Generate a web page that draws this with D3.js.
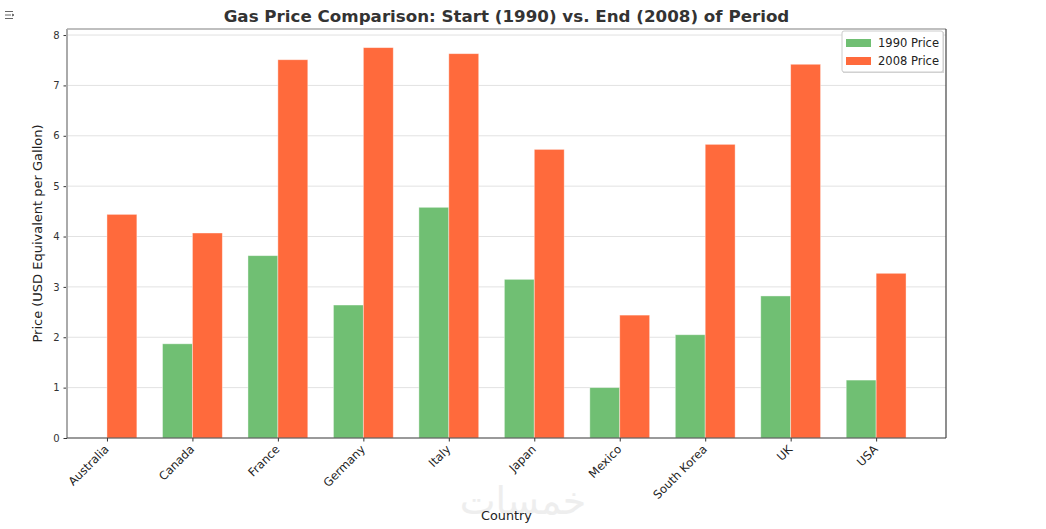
<!DOCTYPE html>
<html>
<head>
<meta charset="utf-8">
<script src="https://cdn.jsdelivr.net/npm/d3@7"></script>
<style>
  body { margin: 0; background: #fff; }
  svg { font-family: "DejaVu Sans", sans-serif; }
</style>
</head>
<body>
<svg id="chart" width="1046" height="529"></svg>
<script>
// Data
var countries = ['Australia', 'Canada', 'France', 'Germany', 'Italy', 'Japan', 'Mexico', 'South Korea', 'UK', 'USA'];
var price1990 = [null, 1.87, 3.62, 2.64, 4.58, 3.15, 1.00, 2.05, 2.82, 1.15];
var price2008 = [4.44, 4.07, 7.51, 7.75, 7.63, 5.73, 2.44, 5.83, 7.42, 3.27];
var yTicks = [0, 1, 2, 3, 4, 5, 6, 7, 8];

// plot box
var padLeft = 67, padRight = 946, padTop = 29, padBottom = 438;
var barW = 0.35;

var svg = d3.select('#chart');

// scales (matplotlib style positions: index with margins)
var xScale = d3.scaleLinear()
               .domain([-0.4675, countries.length - 1 + 0.8175])
               .range([padLeft, padRight]);

var yScale = d3.scaleLinear()
               .domain([0, 8.12])
               .range([padBottom, padTop]);

// grid
svg.append('g')
   .selectAll('line')
   .data(yTicks)
   .enter()
   .append('line')
   .attr('x1', padLeft)
   .attr('x2', padRight)
   .attr('y1', (d) => yScale(d))
   .attr('y2', (d) => yScale(d))
   .attr('stroke', '#e2e2e2')
   .attr('stroke-width', 1);

// bars
svg.append('g')
   .selectAll('rect')
   .data(price1990.map((v, i) => [v, i]).filter((d) => d[0] != null))
   .enter()
   .append('rect')
   .attr('x', (d) => xScale(d[1] - barW))
   .attr('y', (d) => yScale(d[0]))
   .attr('width', (d) => xScale(barW) - xScale(0))
   .attr('height', (d) => yScale(0) - yScale(d[0]))
   .attr('fill', '#70bf73')
   .attr('stroke', '#fff')
   .attr('stroke-opacity', 0.5)
   .attr('stroke-width', 0.8);

svg.append('g')
   .selectAll('rect')
   .data(price2008.map((v, i) => [v, i]))
   .enter()
   .append('rect')
   .attr('x', (d) => xScale(d[1]))
   .attr('y', (d) => yScale(d[0]))
   .attr('width', (d) => xScale(barW) - xScale(0))
   .attr('height', (d) => yScale(0) - yScale(d[0]))
   .attr('fill', '#ff6a3c')
   .attr('stroke', '#fff')
   .attr('stroke-opacity', 0.5)
   .attr('stroke-width', 0.8);

// axes
var yAxis = d3.axisLeft(yScale).tickValues(yTicks).tickSize(3.5).tickPadding(4);
var gy = svg.append('g')
   .attr('transform', 'translate(' + padLeft + ', 0)')
   .call(yAxis);
gy.select('.domain').remove();
gy.selectAll('text').attr('font-size', 10).attr('fill', '#333').attr('font-family', '"DejaVu Sans", sans-serif');
gy.selectAll('line').attr('stroke', '#333');

var xAxis = d3.axisBottom(xScale)
              .tickValues(d3.range(countries.length))
              .tickFormat((d) => countries[d])
              .tickSize(3.5);
var gx = svg.append('g')
   .attr('transform', 'translate(0, ' + padBottom + ')')
   .call(xAxis);
gx.select('.domain').remove();
gx.selectAll('line').attr('stroke', '#333');
gx.selectAll('text')
  .attr('font-size', 11.6)
  .attr('fill', '#222')
  .attr('font-family', '"DejaVu Sans", sans-serif')
  .attr('text-anchor', 'end')
  .attr('dy', null)
  .attr('y', 0)
  .attr('transform', 'translate(2, 12) rotate(-45)');

// spines
svg.append('line').attr('x1', padLeft).attr('x2', padLeft).attr('y1', padTop).attr('y2', padBottom)
   .attr('stroke', '#aaa').attr('stroke-width', 2);
svg.append('line').attr('x1', padLeft).attr('x2', padRight).attr('y1', padTop).attr('y2', padTop)
   .attr('stroke', '#aaa').attr('stroke-width', 1.5);
svg.append('line').attr('x1', padRight).attr('x2', padRight).attr('y1', padTop).attr('y2', padBottom)
   .attr('stroke', '#444').attr('stroke-width', 1.2);
svg.append('line').attr('x1', padLeft).attr('x2', padRight).attr('y1', padBottom).attr('y2', padBottom)
   .attr('stroke', '#444').attr('stroke-width', 1.2);

// watermark
svg.append('text')
   .attr('x', 523)
   .attr('y', 514)
   .attr('text-anchor', 'middle')
   .attr('font-size', 38)
   .attr('font-family', '"DejaVu Sans", sans-serif')
   .attr('fill', '#eeeeee')
   .text('خمسات');

// titles
svg.append('text')
   .attr('x', (padLeft + padRight) / 2)
   .attr('y', 22)
   .attr('text-anchor', 'middle')
   .attr('font-size', 16.7)
   .attr('font-weight', 'bold')
   .attr('fill', '#333')
   .text('Gas Price Comparison: Start (1990) vs. End (2008) of Period');

svg.append('text')
   .attr('x', (padLeft + padRight) / 2)
   .attr('y', 520)
   .attr('text-anchor', 'middle')
   .attr('font-size', 12.8)
   .attr('fill', '#222')
   .text('Country');

svg.append('text')
   .attr('transform', 'translate(42, ' + ((padTop + padBottom) / 2) + ') rotate(-90)')
   .attr('text-anchor', 'middle')
   .attr('font-size', 13)
   .attr('fill', '#222')
   .text('Price (USD Equivalent per Gallon)');

// small toolbar icon top-left
var icon = svg.append('g').attr('transform', 'translate(5, 11)').attr('stroke', '#666').attr('stroke-width', 1).attr('fill', 'none');
icon.append('line').attr('x1', 0).attr('x2', 8).attr('y1', 0.5).attr('y2', 0.5);
icon.append('line').attr('x1', 0).attr('x2', 6).attr('y1', 4).attr('y2', 4);
icon.append('line').attr('x1', 0).attr('x2', 8).attr('y1', 7.5).attr('y2', 7.5);
icon.append('path').attr('d', 'M7,3 L9,4 L7,5').attr('fill', '#666');

// legend
var legend = svg.append('g').attr('transform', 'translate(842, 31)');
legend.append('rect')
      .attr('x', 1).attr('y', 1).attr('width', 101).attr('height', 41)
      .attr('fill', '#bbb').attr('opacity', 0.6);
legend.append('rect')
      .attr('width', 101).attr('height', 41).attr('rx', 2)
      .attr('fill', '#fff').attr('stroke', '#ccc');
var legendItems = [['1990 Price', '#70bf73'], ['2008 Price', '#ff6a3c']];
legendItems.forEach(function(item, i) {
  legend.append('rect')
        .attr('x', 4).attr('y', 8 + i * 18).attr('width', 25).attr('height', 8)
        .attr('fill', item[1]);
  legend.append('text')
        .attr('x', 36).attr('y', 16 + i * 18)
        .attr('font-size', 11.5).attr('fill', '#222')
        .text(item[0]);
});
</script>
</body>
</html>
